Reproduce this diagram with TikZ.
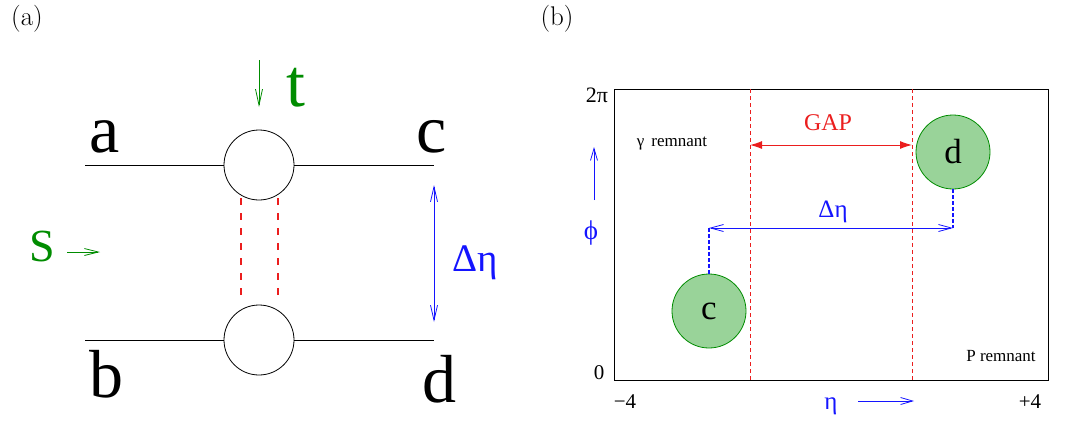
\documentclass[tikz,border=0pt]{standalone}
\usepackage{fontspec}
\newfontfamily\tms{Liberation Serif}
\usetikzlibrary{arrows.meta}
\definecolor{tgreen}{RGB}{0,140,0}
\definecolor{cfill}{RGB}{153,211,153}
\definecolor{tred}{RGB}{235,30,30}
\definecolor{tblue}{RGB}{20,20,255}
\tikzset{
  lbl/.style={inner sep=0pt, font=\tms\fontsize{#1}{#1}\selectfont},
  thin line/.style={line width=0.8pt},
  barb/.style={-{Straight Barb[length=#1,width=7pt]}},
  dbarb/.style={{Straight Barb[length=#1,width=7pt]}-{Straight Barb[length=#1,width=7pt]}},
  vertex/.style={circle, draw, line width=0.8pt, minimum size=70pt, inner sep=0pt},
  jet/.style={circle, draw=tgreen, fill=cfill, line width=0.8pt, minimum size=74pt, inner sep=0pt, font=\tms\fontsize{35}{35}\selectfont},
  reddash/.style={draw=tred, color=tred, line width=1.5pt, dash pattern=on 7pt off 8pt},
  bluedash/.style={draw=tblue, color=tblue, line width=1.1pt, dash pattern=on 3.5pt off 2.5pt},
}
\begin{document}
\begin{tikzpicture}[x=1pt,y=-1pt]
\useasboundingbox (0,0) rectangle (1065,421);
% ---------- panel (a)
\node[inner sep=0pt, font=\fontsize{27}{27}\selectfont] (pa) at (27,19) {(a)};
\node[vertex] (v1) at (259,165) {};
\node[vertex] (v2) at (259,340) {};
\coordinate (aL) at (85,165);
\coordinate (cR) at (434,165);
\coordinate (bL) at (85,340);
\coordinate (dR) at (434,340);
\draw[thin line] (aL) -- (v1.west);
\draw[thin line] (v1.east) -- (cR);
\draw[thin line] (bL) -- (v2.west);
\draw[thin line] (v2.east) -- (dR);
\coordinate (r1t) at (241,198); \coordinate (r1b) at (241,300);
\coordinate (r2t) at (278,198); \coordinate (r2b) at (278,302);
\draw[reddash] (r1t) -- (r1b);
\draw[reddash] (r2t) -- (r2b);
\node[lbl=68] (la) at (105,137) {a};
\node[lbl=68] (lb) at (106,374) {b};
\node[lbl=68] (lc) at (432,137) {c};
\node[lbl=68] (ld) at (439,379) {d};
\node[lbl=68, text=tgreen] (lt) at (296,88) {t};
\node[lbl=46, text=tgreen] (ls) at (42,246) {S};
\coordinate (tA) at (259,60); \coordinate (tB) at (259,107);
\draw[draw=tgreen, thin line, barb=16pt] (tA) -- (tB);
\coordinate (sA) at (67,252); \coordinate (sB) at (100,252);
\draw[draw=tgreen, thin line, barb=14pt] (sA) -- (sB);
\coordinate (deA) at (434,185); \coordinate (deB) at (434,322);
\draw[draw=tblue, thin line, dbarb=15pt] (deA) -- (deB);
\node[lbl=39, text=tblue] (deta) at (475,263) {Δη};
% ---------- panel (b)
\node[inner sep=0pt, font=\fontsize{27}{27}\selectfont] (pb) at (557,19) {(b)};
\node[draw, line width=1pt, minimum width=434pt, minimum height=291pt, inner sep=0pt, anchor=north west] (box) at (614,89) {};
\coordinate (g1t) at (750,89); \coordinate (g1b) at (750,380);
\coordinate (g2t) at (912,89); \coordinate (g2b) at (912,380);
\draw[draw=tred, thin line, dash pattern=on 4pt off 3pt] (g1t) -- (g1b);
\draw[draw=tred, thin line, dash pattern=on 4pt off 3pt] (g2t) -- (g2b);
\coordinate (gapL) at (750,145); \coordinate (gapR) at (912,145);
\draw[draw=tred, fill=tred, line width=1pt, {Latex[length=12pt,width=8pt]}-{Latex[length=12pt,width=8pt]}] (gapL) -- (gapR);
\node[lbl=24, text=tred] (gap) at (828,123) {GAP};
\node[lbl=17] (grem) at (672,144) {γ\, remnant};
\node[lbl=17] (prem) at (1001,356) {P remnant};
\node[lbl=22] (twopi) at (597,95) {2π};
\node[lbl=21] (zero) at (599,373) {0};
\node[lbl=21] (m4) at (625,402) {−4};
\node[lbl=21] (p4) at (1030,402) {+4};
\node[jet] (jc) at (709,311) {c};
\node[jet] (jd) at (953,152) {d};
\coordinate (ec) at (709,228); \coordinate (ed) at (953,228);
\draw[bluedash] (jc.north) -- (ec);
\draw[bluedash] (jd.south) -- (ed);
\draw[draw=tblue, thin line, dbarb=13pt] (ec) -- (ed);
\node[lbl=25, text=tblue] (deta2) at (833,212) {Δη};
\node[lbl=25, text=tblue] (etab) at (831,406) {η};
\coordinate (eA) at (858,401); \coordinate (eB) at (914,401);
\draw[draw=tblue, thin line, barb=12pt] (eA) -- (eB);
\node[lbl=27, text=tblue] (phi) at (591,233) {ϕ};
\coordinate (pA) at (594,200); \coordinate (pB) at (594,147);
\draw[draw=tblue, thin line, barb=12pt] (pA) -- (pB);
\end{tikzpicture}
\end{document}
